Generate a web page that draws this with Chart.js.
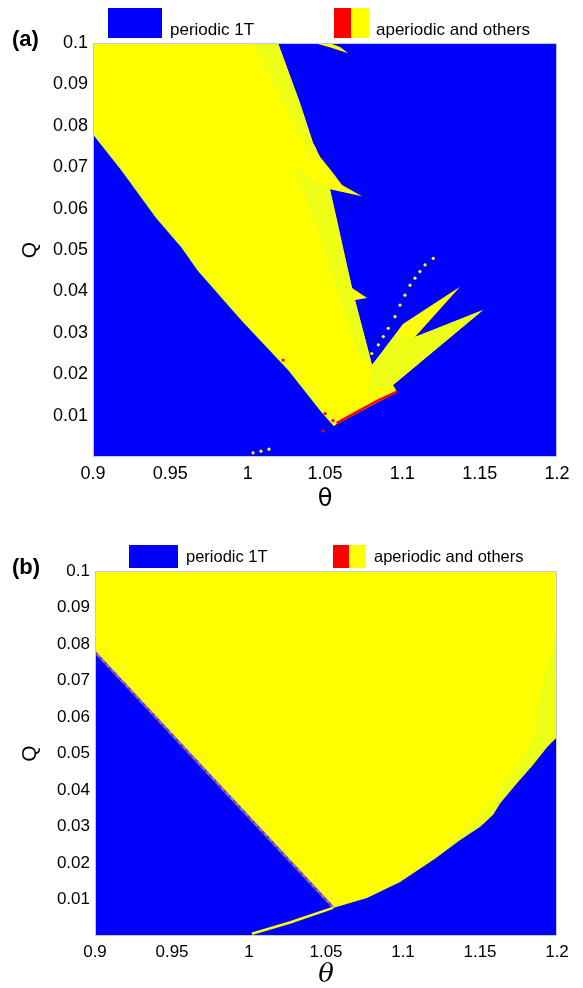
<!DOCTYPE html>
<html>
<head>
<meta charset="utf-8">
<script src="https://cdn.jsdelivr.net/npm/chart.js@4"></script>
<style>
  body { margin: 0; background: #fff; font-family: 'Liberation Sans', Arial, sans-serif; color: #000; }
  #page { position: relative; width: 583px; height: 988px; overflow: hidden; }
  canvas { position: absolute; left: 0; }
  .tag { position: absolute; font-weight: bold; font-size: 22px; line-height: 1; }
  .swatch { position: absolute; }
  .key { position: absolute; font-size: 17px; line-height: 20px; white-space: nowrap; }
</style>
</head>
<body>
<div id="page">
  <canvas id="panelA" width="583" height="520" style="top:0"></canvas>
  <canvas id="panelB" width="583" height="470" style="top:520px"></canvas>

  <div class="tag" style="left:12px;top:28px">(a)</div>
  <div class="swatch" style="left:108px;top:8px;width:54px;height:30px;background:#0000ff"></div>
  <div class="key" style="left:170px;top:20px">periodic 1T</div>
  <div class="swatch" style="left:334px;top:8px;width:35px;height:30px;background:linear-gradient(90deg,#ff0000 50%,#ffff00 50%)"></div>
  <div class="key" style="left:376px;top:20px">aperiodic and others</div>

  <div class="tag" style="left:12px;top:556px">(b)</div>
  <div class="swatch" style="left:129px;top:545px;width:49px;height:23px;background:#0000ff"></div>
  <div class="key" style="left:186px;top:546px;font-size:16.5px">periodic 1T</div>
  <div class="swatch" style="left:333px;top:545px;width:32px;height:23px;background:linear-gradient(90deg,#ff0000 50%,#ffff00 50%)"></div>
  <div class="key" style="left:374px;top:546px;font-size:16.5px">aperiodic and others</div>
</div>
<script>
const BLUE = '#0000ff', YELLOW = '#ffff00', PALE = '#ecff14', RED = '#ff0000'

const thetaTicks = [0.9, 0.95, 1, 1.05, 1.1, 1.15, 1.2]
const qTicks = [0.01, 0.02, 0.03, 0.04, 0.05, 0.06, 0.07, 0.08, 0.09, 0.1]

// panel (a): regions as [theta, Q] vertices
const aChaos = [
  [0.9, 0.1], [1.0196, 0.1], [1.0338, 0.0855], [1.0422, 0.0759], [1.0468, 0.0725],
  [1.0552, 0.0686], [1.0610, 0.0657], [1.0739, 0.0630], [1.0532, 0.0647], [1.0578, 0.0572],
  [1.0675, 0.0408], [1.0772, 0.0384], [1.0694, 0.0379], [1.0804, 0.0222], [1.1004, 0.0321],
  [1.1373, 0.0411], [1.1082, 0.0290], [1.1522, 0.0355], [1.0940, 0.0174], [1.0966, 0.0157],
  [1.0565, 0.0077], [1.0487, 0.0109], [1.0274, 0.0210], [0.9970, 0.0331], [0.9685, 0.0452],
  [0.9582, 0.0507], [0.9414, 0.0580], [0.9194, 0.0693], [0.9, 0.0785]
]
const aCap = [[1.0430, 0.1], [1.0530, 0.0990], [1.0650, 0.0975], [1.0600, 0.0990], [1.0530, 0.1]]
const aPaleTop = [[1.0035, 0.1], [1.0196, 0.1], [1.0338, 0.0855], [1.0422, 0.0759], [1.0448, 0.0742], [1.0384, 0.0742]]
const aPaleMid = [
  [1.0300, 0.0700], [1.0532, 0.0647], [1.0617, 0.0500], [1.0675, 0.0408], [1.0694, 0.0379],
  [1.0804, 0.0222], [1.0720, 0.0240], [1.0480, 0.0520]
]
const aPaleWing = [[1.0804, 0.0222], [1.0950, 0.0290], [1.1082, 0.0290], [1.1522, 0.0355], [1.0940, 0.0174], [1.0780, 0.0160]]
const aRim = [[0.9, 0.0785], [0.9194, 0.0693], [0.9414, 0.0580], [0.9582, 0.0507], [0.9685, 0.0452], [0.9970, 0.0331], [1.0274, 0.0210], [1.0487, 0.0109], [1.0565, 0.0077]]
const aRedEdge = [[1.0575, 0.0082], [1.0700, 0.0108], [1.0850, 0.0138], [1.0966, 0.0158]]
const aRedDots = [[1.0229, 0.0234], [1.0487, 0.0063], [1.0500, 0.0105], [1.0552, 0.0088]]
const aDots = [
  [1.0802, 0.0250], [1.0845, 0.0271], [1.0877, 0.0291], [1.0909, 0.0311], [1.0953, 0.0339],
  [1.0985, 0.0367], [1.1017, 0.0391], [1.1050, 0.0415], [1.1082, 0.0432], [1.1114, 0.0448],
  [1.1147, 0.0464], [1.1200, 0.0480], [1.0035, 0.0010], [1.0086, 0.0014], [1.0138, 0.0019]
]

// panel (b)
const bChaos = [
  [0.9, 0.1], [1.2, 0.1], [1.2, 0.0545], [1.1935, 0.0518], [1.1844, 0.0469], [1.1740, 0.0419],
  [1.1630, 0.0364], [1.1584, 0.0332], [1.1500, 0.0299], [1.1370, 0.0263], [1.1195, 0.0208],
  [1.0981, 0.0148], [1.0766, 0.0104], [1.0545, 0.0077], [0.9, 0.0778]
]
const bPaleBand = [
  [1.1195, 0.0208], [1.1370, 0.0263], [1.1500, 0.0299], [1.1584, 0.0332], [1.1630, 0.0364],
  [1.1740, 0.0419], [1.1844, 0.0469], [1.1935, 0.0518], [1.2, 0.0545], [1.2, 0.083],
  [1.198, 0.081], [1.189, 0.0666], [1.1844, 0.0545], [1.178, 0.0495], [1.168, 0.0435],
  [1.155, 0.0355], [1.14, 0.029], [1.125, 0.0235]
]
const bEdge = [[0.9, 0.0778], [0.9636, 0.0490], [1.0545, 0.0079]]
const bTail = [[1.0019, 0.0006], [1.0266, 0.0037], [1.0545, 0.0077]]

const pts = list => list.map(([x, y]) => ({x, y}))
const poly = (list, color) => ({data: pts(list), showLine: true, fill: 'shape', backgroundColor: color, borderWidth: 0, pointRadius: 0})
const line = (list, color, width, dash) => ({data: pts(list), showLine: true, fill: false, borderColor: color, borderWidth: width, borderDash: dash || [], pointRadius: 0})
const dots = (list, color, r) => ({data: pts(list), showLine: false, pointRadius: r, backgroundColor: color, borderWidth: 0})

// blue backdrop and thin frame around the plot area
const frame = color => ({
  id: 'frame',
  beforeDatasetsDraw(chart) {
    const {ctx, chartArea: a} = chart
    ctx.save()
    ctx.fillStyle = BLUE
    ctx.fillRect(a.left, a.top, a.right - a.left, a.bottom - a.top)
    ctx.restore()
  },
  afterDatasetsDraw(chart) {
    const {ctx, chartArea: a} = chart
    ctx.save()
    ctx.strokeStyle = color
    ctx.lineWidth = 1
    ctx.strokeRect(a.left + 0.5, a.top + 0.5, a.right - a.left - 1, a.bottom - a.top - 1)
    ctx.restore()
  }
})

function panel(id, datasets, o) {
  const font = {family: "'Liberation Sans', Arial, sans-serif", size: o.tickSize}
  return new Chart(document.getElementById(id), {
    type: 'scatter',
    data: {datasets},
    plugins: [frame(o.frame)],
    options: {
      responsive: false,
      animation: false,
      layout: {padding: {top: o.top, right: 26, left: 0, bottom: 0}},
      plugins: {legend: {display: false}, tooltip: {enabled: false}},
      elements: {line: {tension: 0}},
      scales: {
        x: {
          min: 0.9, max: 1.2,
          afterBuildTicks: s => { s.ticks = thetaTicks.map(value => ({value})) },
          afterFit: s => { s.height = o.xHeight },
          grid: {display: false, drawTicks: false},
          border: {display: false},
          ticks: {color: '#000', font, padding: o.xPad, maxRotation: 0, callback: v => String(+v.toFixed(2))},
          title: {display: true, text: 'θ', color: '#000', padding: {top: 0, bottom: o.titlePad},
                  font: {family: o.thetaFamily, size: o.thetaSize, style: o.thetaStyle, lineHeight: 1}}
        },
        y: {
          min: 0, max: 0.1,
          afterBuildTicks: s => { s.ticks = qTicks.map(value => ({value})) },
          afterFit: s => { s.width = o.yWidth },
          grid: {display: false, drawTicks: false},
          border: {display: false},
          ticks: {color: '#000', font, padding: 5, callback: v => String(+v.toFixed(2))},
          title: {display: true, text: 'Q', color: '#000', padding: {top: 20, bottom: 0},
                  font: {family: "'Liberation Sans', Arial, sans-serif", size: 21, lineHeight: 1}}
        }
      }
    }
  })
}

panel('panelA', [
  dots(aDots, YELLOW, 1.6),
  dots(aRedDots, RED, 1.6),
  line(aRedEdge, RED, 2.5),
  line(aRim, PALE, 3),
  poly(aPaleWing, PALE),
  poly(aPaleMid, PALE),
  poly(aPaleTop, PALE),
  poly(aCap, YELLOW),
  poly(aChaos, YELLOW)
], {top: 43, xHeight: 63, yWidth: 93, tickSize: 18, xPad: 6, titlePad: 8,
    thetaFamily: "'DejaVu Sans', sans-serif", thetaSize: 24, thetaStyle: 'normal', frame: '#c4c4f0'})

panel('panelB', [
  line(bTail, YELLOW, 2.5),
  line(bEdge, RED, 1.5, [3, 4]),
  line(bEdge, '#5a7dff', 2.5),
  poly(bPaleBand, PALE),
  poly(bChaos, YELLOW)
], {top: 51, xHeight: 54, yWidth: 95, tickSize: 17, xPad: 6, titlePad: 2,
    thetaFamily: "'DejaVu Serif', serif", thetaSize: 26, thetaStyle: 'italic', frame: '#c8c8c8'})
</script>
</body>
</html>
